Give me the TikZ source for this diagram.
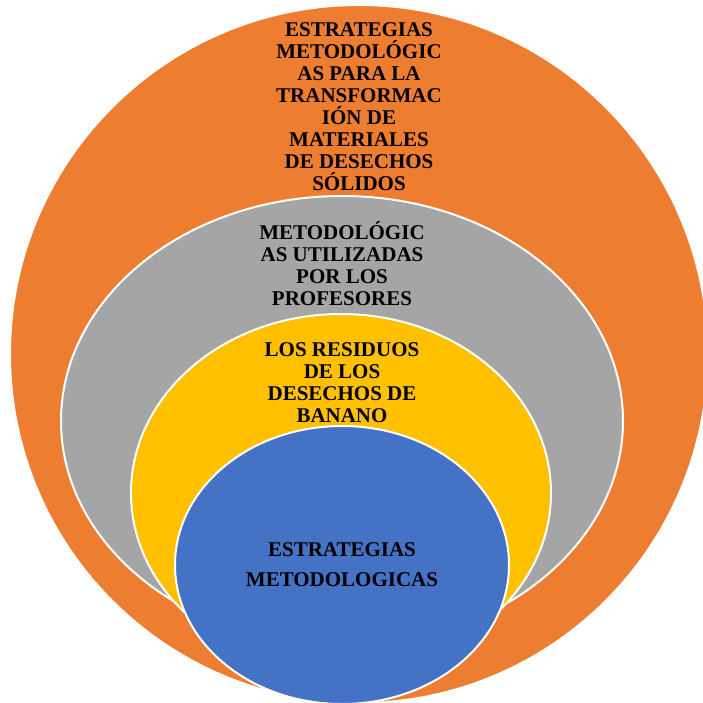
\documentclass[tikz,border=0pt]{standalone}
\usepackage{fontspec}
\setmainfont{Liberation Serif}
\definecolor{corange}{HTML}{ED7D31}
\definecolor{cgray}{HTML}{A5A5A5}
\definecolor{cyellow}{HTML}{FFC000}
\definecolor{cblue}{HTML}{4472C4}
\begin{document}
\begin{tikzpicture}[x=1pt,y=-1pt,
  ring/.style={draw=white,line width=2pt},
  lbl/.style={align=center,font=\fontsize{21}{22}\selectfont\bfseries,text=black,inner sep=0pt}]
\useasboundingbox (0,0) rectangle (703,703);
\fill[white] (0,0) rectangle (703,703);
\filldraw[ring,fill=corange] (359,354) ellipse [x radius=349,y radius=349];
\filldraw[ring,fill=cgray] (342,421) ellipse [x radius=281,y radius=225];
\filldraw[ring,fill=cyellow] (341,493) ellipse [x radius=210,y radius=179];
\filldraw[ring,fill=cblue] (342,565) ellipse [x radius=167,y radius=139];
\node[lbl] (t1) at (359,107) {ESTRATEGIAS\\METODOLÓGIC\\AS PARA LA\\TRANSFORMAC\\IÓN DE\\MATERIALES\\DE DESECHOS\\SÓLIDOS};
\node[lbl] (t2) at (342,264) {METODOLÓGIC\\AS UTILIZADAS\\POR LOS\\PROFESORES};
\node[lbl] (t3) at (342,383) {LOS RESIDUOS\\DE LOS\\DESECHOS DE\\BANANO};
\node[lbl,font=\fontsize{21}{30}\selectfont\bfseries] (t4) at (342,565) {ESTRATEGIAS\\METODOLOGICAS};
\end{tikzpicture}
\end{document}
